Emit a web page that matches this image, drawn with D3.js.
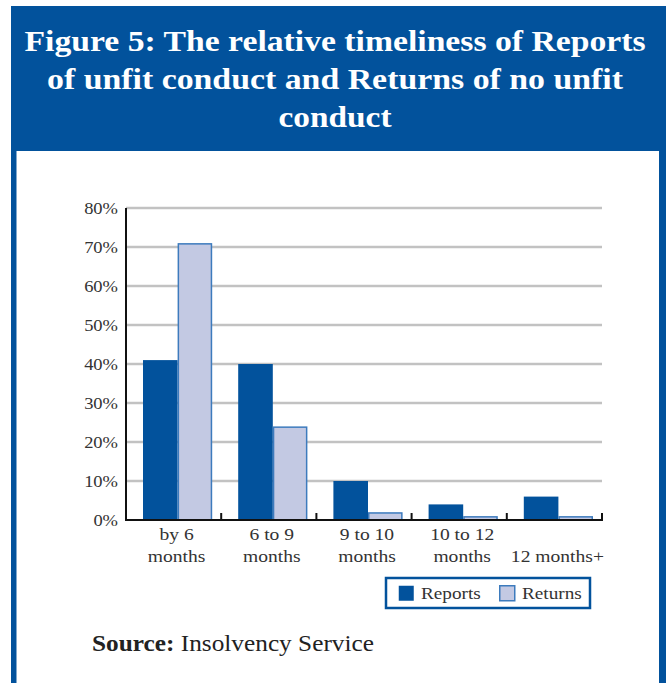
<!DOCTYPE html>
<html>
<head>
<meta charset="utf-8">
<script src="https://cdn.jsdelivr.net/npm/d3@7"></script>
<style>
  html, body { margin: 0; padding: 0; background: #fff; }
  svg { display: block; }
  text { font-family: "Liberation Serif", "DejaVu Serif", serif; }
</style>
</head>
<body>
<svg id="chart" width="666" height="683"></svg>
<script>
// Chart data
const categories = [["by 6", "months"], ["6 to 9", "months"], ["9 to 10", "months"], ["10 to 12", "months"], ["", "12 months+"]];
const seriesNames = ["Reports", "Returns"];
const reports = [41, 40, 10, 4, 6];
const returns = [71, 24, 2, 1, 1];
const yTicks = [0, 10, 20, 30, 40, 50, 60, 70, 80];
const titleLines = [
  "Figure 5: The relative timeliness of Reports",
  "of unfit conduct and Returns of no unfit",
  "conduct"
];

const BLUE = "#02529c";
const LIGHT = "#c3c9e3";
const LIGHT_STROKE = "#3d7bbd";

// Stretch text horizontally a little for a book-face look
function widen(sel, f) {
  sel.each(function () {
    const len = this.getComputedTextLength();
    d3.select(this).attr("textLength", len * f).attr("lengthAdjust", "spacingAndGlyphs");
  });
}

const svg = d3.select("#chart");

// Frame: blue header and side borders around a white panel
svg.append("rect").attr("x", 11).attr("y", 6).attr("width", 660).attr("height", 700).attr("fill", BLUE);
svg.append("rect").attr("x", 16.5).attr("y", 151).attr("width", 642.5).attr("height", 600).attr("fill", "#fff");

// Title
const titleWidths = [621, 576, 113];
const titleBase = [51, 89, 127];
titleLines.forEach((t, i) => {
  svg.append("text")
    .attr("x", 335).attr("y", titleBase[i])
    .attr("text-anchor", "middle")
    .attr("fill", "#fff")
    .attr("font-weight", "bold")
    .attr("font-size", 29)
    .attr("textLength", titleWidths[i])
    .attr("lengthAdjust", "spacingAndGlyphs")
    .text(t);
});

// Plot area
const plot = { left: 126, right: 602, top: 208, bottom: 520 };

const x0 = d3.scaleBand()
  .domain(d3.range(categories.length))
  .range([plot.left, plot.right])
  .padding(0);

const x1 = d3.scaleBand()
  .domain(seriesNames)
  .range([17, x0.bandwidth() - 9])
  .padding(0);

const y = d3.scaleLinear().domain([0, 80]).range([plot.bottom, plot.top]);

// Gridlines
svg.append("g")
  .selectAll("line")
  .data(yTicks.filter(d => d > 0))
  .join("line")
  .attr("x1", plot.left).attr("x2", plot.right)
  .attr("y1", d => y(d)).attr("y2", d => y(d))
  .attr("stroke", "#c2c2c2")
  .attr("stroke-width", 2.5);

// Y axis labels
const yAxis = d3.axisLeft(y)
  .tickValues(yTicks)
  .tickFormat(d => d + "%")
  .tickSize(0)
  .tickPadding(8);
const yg = svg.append("g").attr("transform", `translate(${plot.left},0)`).call(yAxis);
yg.select(".domain").remove();
yg.selectAll("text")
  .attr("font-family", "'Liberation Serif', serif")
  .attr("font-size", 16.5)
  .attr("fill", "#333");
widen(yg.selectAll("text"), 1.12);

// Bars
const data = categories.map((c, i) => ({ i, values: [reports[i], returns[i]] }));
const groups = svg.append("g")
  .selectAll("g")
  .data(data)
  .join("g")
  .attr("transform", d => `translate(${x0(d.i)},0)`);

groups.selectAll("rect")
  .data(d => seriesNames.map((s, k) => ({ s, v: d.values[k] })))
  .join("rect")
  .attr("x", d => x1(d.s) + (d.s === "Returns" ? 0.75 : 0))
  .attr("y", d => y(d.v) + (d.s === "Returns" ? 0.75 : 0))
  .attr("width", d => x1.bandwidth() - (d.s === "Returns" ? 1.5 : 0))
  .attr("height", d => plot.bottom - y(d.v) - (d.s === "Returns" ? 0.75 : 0))
  .attr("fill", d => d.s === "Reports" ? BLUE : LIGHT)
  .attr("stroke", d => d.s === "Returns" ? LIGHT_STROKE : "none")
  .attr("stroke-width", 1.5);

// X axis baseline with inward ticks at category boundaries
const xAxisG = svg.append("g");
xAxisG.append("line")
  .attr("x1", plot.left - 1).attr("x2", plot.right + 1)
  .attr("y1", plot.bottom).attr("y2", plot.bottom)
  .attr("stroke", "#111").attr("stroke-width", 2);
xAxisG.selectAll("line.tick")
  .data(d3.range(1, categories.length + 1))
  .join("line")
  .attr("class", "tick")
  .attr("x1", d => x0.step() * d + plot.left).attr("x2", d => x0.step() * d + plot.left)
  .attr("y1", plot.bottom).attr("y2", plot.bottom - 7)
  .attr("stroke", "#111").attr("stroke-width", 2);

// Y axis line
svg.append("line")
  .attr("x1", plot.left).attr("x2", plot.left)
  .attr("y1", plot.top).attr("y2", plot.bottom + 1)
  .attr("stroke", "#111").attr("stroke-width", 2);

// Category labels
const catG = svg.append("g");
categories.forEach((c, i) => {
  const cx = x0(i) + x0.bandwidth() / 2 + 3;
  c.forEach((line, k) => {
    if (!line) return;
    catG.append("text")
      .attr("x", cx).attr("y", 540 + k * 22)
      .attr("text-anchor", "middle")
      .attr("font-size", 17)
      .attr("fill", "#333")
      .text(line);
  });
});
widen(catG.selectAll("text"), 1.15);

// Legend
const leg = svg.append("g");
leg.append("rect")
  .attr("x", 386).attr("y", 578).attr("width", 204).attr("height", 30)
  .attr("fill", "#fff").attr("stroke", BLUE).attr("stroke-width", 2.5);
const legItems = [
  { name: seriesNames[0], x: 398, fill: BLUE, stroke: "none" },
  { name: seriesNames[1], x: 499, fill: LIGHT, stroke: LIGHT_STROKE }
];
legItems.forEach(it => {
  leg.append("rect")
    .attr("x", it.x + 0.75).attr("y", 585.75).attr("width", 15).attr("height", 15)
    .attr("fill", it.fill).attr("stroke", it.stroke).attr("stroke-width", 1.5);
  leg.append("text")
    .attr("class", "legtext")
    .attr("x", it.x + 23).attr("y", 598.5)
    .attr("font-size", 17).attr("fill", "#333")
    .text(it.name);
});
widen(leg.selectAll("text.legtext"), 1.13);

// Source note
const src = svg.append("text").attr("x", 92).attr("y", 651).attr("font-size", 23).attr("fill", "#222");
src.append("tspan").attr("font-weight", "bold").text("Source:");
src.append("tspan").text(" Insolvency Service");
widen(src, 1.1);
</script>
</body>
</html>
